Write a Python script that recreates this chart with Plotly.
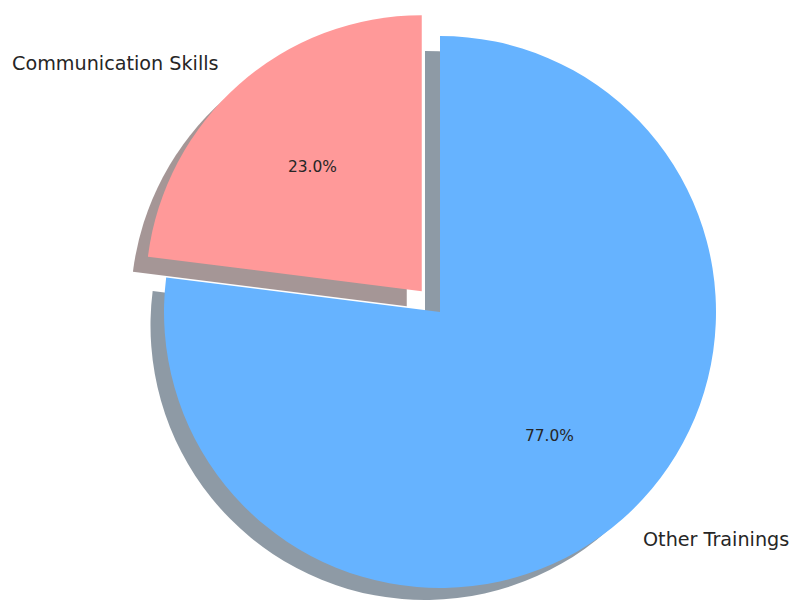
import math
import plotly.graph_objects as go

# ---- data ----
labels = ["Communication Skills", "Other Trainings"]
sizes = [23, 77]
colors = ["#ff9999", "#66b3ff"]
explode = [0.1, 0.0]
pct_labels = ["%.1f%%" % (100 * s / sum(sizes)) for s in sizes]

# ---- layout geometry (pixels) ----
W, H = 791, 600
CX, CY = 440, 312      # centre of the un-exploded pie
R = 276                # pie radius
SH_DX, SH_DY = -15, 15 # shadow shift
LABEL_DIST, PCT_DIST = 1.1, 0.6


def hex_rgb(h):
    h = h.lstrip("#")
    return tuple(int(h[i:i + 2], 16) for i in (0, 2, 4))


def domain_for(x, y, r):
    x0, x1 = max(0.0, (x - r) / W), min(1.0, (x + r) / W)
    y0, y1 = max(0.0, 1 - (y + r) / H), min(1.0, 1 - (y - r) / H)
    return dict(x=[x0, x1], y=[y0, y1])


total = sum(sizes)
theta = 90.0
slices = []
for s, ex in zip(sizes, explode):
    t1 = theta
    t2 = theta + 360.0 * s / total
    mid = math.radians((t1 + t2) / 2)
    ox = ex * R * math.cos(mid)
    oy = ex * R * math.sin(mid)
    slices.append(dict(mid=mid, cx=CX + ox, cy=CY - oy))
    theta = t2

# plotly puts the first slice clockwise from 12 o'clock; rotate it so it
# starts at 12 o'clock and runs counter-clockwise (matplotlib style)
ROTATION = -360.0 * sizes[0] / total

fig = go.Figure()
transparent = "rgba(0,0,0,0)"


def add_slice_trace(i, color, dx=0, dy=0):
    cols = [transparent] * len(sizes)
    cols[i] = color
    sl = slices[i]
    fig.add_trace(go.Pie(
        values=sizes, labels=labels, sort=False,
        direction="counterclockwise", rotation=ROTATION,
        marker=dict(colors=cols, line=dict(width=0)),
        textinfo="none", hoverinfo="skip", showlegend=False,
        domain=domain_for(sl["cx"] + dx, sl["cy"] + dy, R),
    ))


# shadows first
for i, c in enumerate(colors):
    r, g, b = hex_rgb(c)
    add_slice_trace(i, "rgba(%d,%d,%d,0.5)" % (r * 0.3, g * 0.3, b * 0.3), SH_DX, SH_DY)
# wedges
for i, c in enumerate(colors):
    add_slice_trace(i, c)

annotations = []
for i, sl in enumerate(slices):
    cosm, sinm = math.cos(sl["mid"]), math.sin(sl["mid"])
    lx = sl["cx"] + LABEL_DIST * R * cosm
    ly = sl["cy"] - LABEL_DIST * R * sinm
    annotations.append(dict(
        x=lx / W, y=1 - ly / H, xref="paper", yref="paper",
        text=labels[i], showarrow=False,
        xanchor="right" if cosm < 0 else "left", yanchor="middle",
        font=dict(family="DejaVu Sans", size=19.2, color="#262626"),
    ))
    px = sl["cx"] + PCT_DIST * R * cosm
    py = sl["cy"] - PCT_DIST * R * sinm
    annotations.append(dict(
        x=px / W, y=1 - py / H, xref="paper", yref="paper",
        text=pct_labels[i], showarrow=False,
        xanchor="center", yanchor="middle",
        font=dict(family="DejaVu Sans", size=15.4, color="#262626"),
    ))

fig.update_layout(
    width=W, height=H,
    margin=dict(l=0, r=0, t=0, b=0),
    paper_bgcolor="white", plot_bgcolor="white",
    annotations=annotations,
)

fig.write_html("out.html")
